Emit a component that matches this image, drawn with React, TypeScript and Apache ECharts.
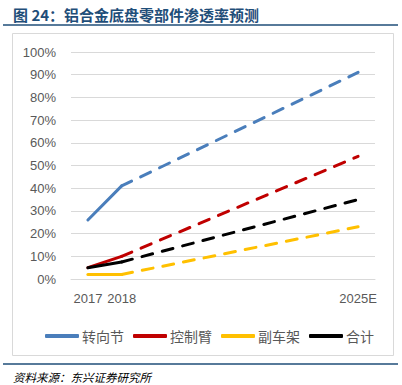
import React, { useEffect, useRef } from "react";
import * as echarts from "echarts";

const categories = ["2017", "2018", "2019", "2020", "2021", "2022", "2023", "2024", "2025E"];
const shownLabels = ["2017", "2018", "2025E"];
const seriesNames = ["转向节", "控制臂", "副车架", "合计"];
const colors = ["#4A7EBB", "#C00000", "#FFC000", "#000000"];
// actual values (2017, 2018)
const actualSteering = [26, 41, null, null, null, null, null, null, null];
const actualArm = [5, 10, null, null, null, null, null, null, null];
const actualSubframe = [2, 2, null, null, null, null, null, null, null];
const actualTotal = [5, 7.5, null, null, null, null, null, null, null];
// forecast (2018 -> 2025E)
const forecastSteering = [null, 41, null, null, null, null, null, null, 91];
const forecastArm = [null, 10, null, null, null, null, null, null, 54];
const forecastSubframe = [null, 2, null, null, null, null, null, null, 23];
const forecastTotal = [null, 7.5, null, null, null, null, null, null, 35];
const yTicks = { min: 0, max: 100, interval: 10 };
const title = "图 24：铝合金底盘零部件渗透率预测";
const source = "资料来源：东兴证券研究所";

export default function App() {
  const ref = useRef<HTMLDivElement>(null);
  useEffect(() => {
    if (!ref.current) return;
    const chart = echarts.init(ref.current, undefined, { renderer: "svg" });
    const actual = [actualSteering, actualArm, actualSubframe, actualTotal];
    const forecast = [forecastSteering, forecastArm, forecastSubframe, forecastTotal];
    const series: any[] = [];
    seriesNames.forEach((name, i) => {
      series.push({
        name,
        type: "line",
        data: actual[i],
        symbol: "none",
        lineStyle: { color: colors[i], width: 3, cap: "round", join: "round" },
        itemStyle: { color: colors[i] },
        z: 3,
      });
    });
    seriesNames.forEach((name, i) => {
      series.push({
        name: name + "预测",
        type: "line",
        data: forecast[i],
        connectNulls: true,
        symbol: "none",
        lineStyle: { color: colors[i], width: 3, type: [11, 10], cap: "round" },
        itemStyle: { color: colors[i] },
        z: 2,
      });
    });
    chart.setOption({
      animation: false,
      backgroundColor: "#ffffff",
      grid: { left: 71, right: 27, top: 52, bottom: 106 },
      legend: {
        data: seriesNames,
        left: 40,
        top: 324,
        icon: "roundRect",
        itemWidth: 34,
        itemHeight: 4,
        itemGap: 9,
        textStyle: { color: "#595959", fontSize: 14, fontFamily: "Noto Sans CJK SC", padding: [0, 0, 0, -2] },
      },
      xAxis: {
        type: "category",
        data: categories,
        boundaryGap: true,
        axisLine: { show: true, lineStyle: { color: "#d9d9d9" } },
        axisTick: { show: false },
        axisLabel: {
          interval: 0,
          color: "#595959",
          fontSize: 13,
          fontFamily: "Liberation Sans",
          margin: 13,
          formatter: (v: string) => (shownLabels.includes(v) ? v : ""),
        },
      },
      yAxis: {
        type: "value",
        min: yTicks.min,
        max: yTicks.max,
        interval: yTicks.interval,
        axisLine: { show: false },
        axisTick: { show: false },
        splitLine: { lineStyle: { color: "#d9d9d9", width: 1 } },
        axisLabel: {
          formatter: "{value}%",
          color: "#595959",
          fontSize: 13,
          fontFamily: "Liberation Sans",
          margin: 15,
        },
      },
      graphic: [
        {
          type: "rect",
          shape: { x: 12.5, y: 33.5, width: 381, height: 322 },
          style: { fill: "none", stroke: "#d9d9d9", lineWidth: 1 },
          z: -1,
        },
        {
          type: "text",
          x: 13,
          y: 14,
          style: {
            text: title,
            fill: "#1F4E79",
            font: "bold 15px 'Noto Sans CJK SC'",
            textVerticalAlign: "middle",
          },
        },
        {
          type: "line",
          shape: { x1: 3, y1: 25, x2: 398, y2: 25 },
          style: { stroke: "#1F4E79", lineWidth: 1.5 },
        },
        {
          type: "line",
          shape: { x1: 3, y1: 364, x2: 398, y2: 364 },
          style: { stroke: "#1F4E79", lineWidth: 1.5 },
        },
        {
          type: "text",
          x: 13,
          y: 377,
          style: {
            text: source,
            fill: "#000000",
            font: "italic 11.5px 'Noto Sans CJK SC'",
            textVerticalAlign: "middle",
          },
        },
      ],
      series,
    });
    return () => chart.dispose();
  }, []);
  return (
    <div
      ref={ref}
      style={{ position: "absolute", left: 0, top: 0, width: 402, height: 385 }}
    />
  );
}
